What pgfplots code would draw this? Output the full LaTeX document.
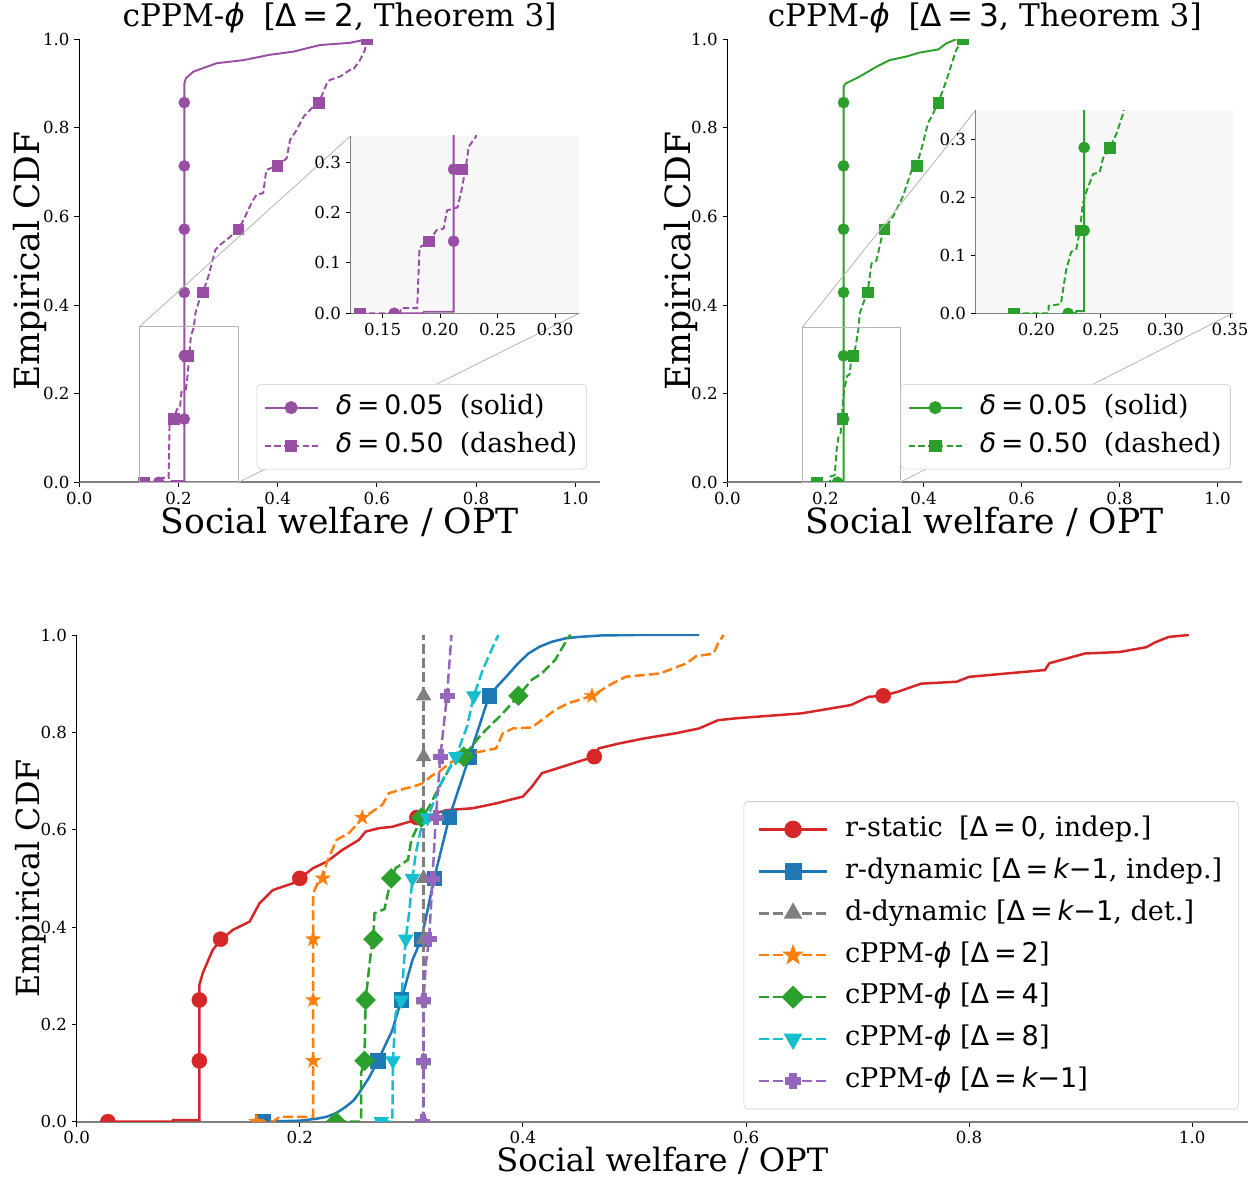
\documentclass[border=0pt]{standalone}
\usepackage{fontspec}
\setmainfont{DejaVu Serif}
\newfontfamily\dvs{DejaVu Sans}
\usepackage{pgfplots}
\usepackage{pgfplotstable}
\pgfplotsset{compat=1.18}
\usetikzlibrary{plotmarks}

\definecolor{tpurple}{HTML}{984EA3}
\definecolor{tgreen}{HTML}{2CA02C}
\definecolor{cred}{HTML}{D62728}
\definecolor{cblue}{HTML}{1F77B4}
\definecolor{cgray}{HTML}{7F7F7F}
\definecolor{corange}{HTML}{FF7F0E}
\definecolor{cgreen}{HTML}{2CA02C}
\definecolor{ccyan}{HTML}{17BECF}
\definecolor{cpurple}{HTML}{9467BD}
\definecolor{spine}{HTML}{808080}
\definecolor{boxgray}{HTML}{B5B5B5}
\definecolor{legedge}{HTML}{CCCCCC}
\definecolor{insetbg}{HTML}{F8F8F8}

% math-like pieces (matplotlib mathtext uses DejaVu Sans)
\newcommand{\mth}[1]{{\dvs #1}}
\newcommand{\eq}{\mth{\hspace{0.18em}=\hspace{0.18em}}}
\newcommand{\D}{\mth{Δ}}
\newcommand{\kk}{{\dvs\itshape k}}
\newcommand{\mn}{\mth{−}}
\newcommand{\ph}{{\dvs\itshape ϕ}}
\newcommand{\dl}{{\dvs\itshape δ}}

% filled star and filled plus marks
\pgfdeclareplotmark{fstar}{%
  \pgfpathmoveto{\pgfpointpolar{90}{\pgfplotmarksize}}%
  \pgfpathlineto{\pgfpointpolar{126}{0.40\pgfplotmarksize}}%
  \pgfpathlineto{\pgfpointpolar{162}{\pgfplotmarksize}}%
  \pgfpathlineto{\pgfpointpolar{198}{0.40\pgfplotmarksize}}%
  \pgfpathlineto{\pgfpointpolar{234}{\pgfplotmarksize}}%
  \pgfpathlineto{\pgfpointpolar{270}{0.40\pgfplotmarksize}}%
  \pgfpathlineto{\pgfpointpolar{306}{\pgfplotmarksize}}%
  \pgfpathlineto{\pgfpointpolar{342}{0.40\pgfplotmarksize}}%
  \pgfpathlineto{\pgfpointpolar{18}{\pgfplotmarksize}}%
  \pgfpathlineto{\pgfpointpolar{54}{0.40\pgfplotmarksize}}%
  \pgfpathclose
  \pgfusepathqfillstroke}
\pgfdeclareplotmark{fplus}{%
  \pgfpathmoveto{\pgfpoint{0.36\pgfplotmarksize}{\pgfplotmarksize}}%
  \pgfpathlineto{\pgfpoint{-0.36\pgfplotmarksize}{\pgfplotmarksize}}%
  \pgfpathlineto{\pgfpoint{-0.36\pgfplotmarksize}{0.36\pgfplotmarksize}}%
  \pgfpathlineto{\pgfpoint{-\pgfplotmarksize}{0.36\pgfplotmarksize}}%
  \pgfpathlineto{\pgfpoint{-\pgfplotmarksize}{-0.36\pgfplotmarksize}}%
  \pgfpathlineto{\pgfpoint{-0.36\pgfplotmarksize}{-0.36\pgfplotmarksize}}%
  \pgfpathlineto{\pgfpoint{-0.36\pgfplotmarksize}{-\pgfplotmarksize}}%
  \pgfpathlineto{\pgfpoint{0.36\pgfplotmarksize}{-\pgfplotmarksize}}%
  \pgfpathlineto{\pgfpoint{0.36\pgfplotmarksize}{-0.36\pgfplotmarksize}}%
  \pgfpathlineto{\pgfpoint{\pgfplotmarksize}{-0.36\pgfplotmarksize}}%
  \pgfpathlineto{\pgfpoint{\pgfplotmarksize}{0.36\pgfplotmarksize}}%
  \pgfpathlineto{\pgfpoint{0.36\pgfplotmarksize}{0.36\pgfplotmarksize}}%
  \pgfpathclose
  \pgfusepathqfillstroke}

%% ---------------- data: top-left (Delta = 2) ----------------
\pgfplotstableread{
x y
0.16 0
0.185 0
0.186 0.003
0.2117 0.003
0.2117 0.90
0.215 0.912
0.23 0.927
0.277 0.946
0.331 0.953
0.384 0.965
0.431 0.972
0.485 0.987
0.546 0.992
0.58 1.0
}\tlsolid
\pgfplotstableread{
x y
0.16 0
0.2117 0.1429
0.2117 0.2857
0.2117 0.4286
0.2117 0.5714
0.2117 0.7143
0.2117 0.8571
}\tlsolidm
\pgfplotstableread{
x y
0.13 0
0.165 0
0.166 0.01
0.18 0.01
0.182 0.13
0.19 0.143
0.197 0.165
0.203 0.168
0.206 0.204
0.215 0.21
0.218 0.237
0.222 0.286
0.225 0.331
0.231 0.35
0.234 0.381
0.244 0.419
0.249 0.4286
0.260 0.464
0.274 0.524
0.284 0.536
0.304 0.554
0.321 0.5714
0.331 0.592
0.347 0.630
0.357 0.649
0.371 0.653
0.377 0.705
0.399 0.7143
0.418 0.731
0.425 0.773
0.438 0.795
0.452 0.825
0.472 0.848
0.483 0.8571
0.499 0.90
0.505 0.908
0.526 0.916
0.546 0.931
0.552 0.931
0.566 0.953
0.576 0.976
0.579 0.995
0.58 1.0
}\tldash
\pgfplotstableread{
x y
0.13 0
0.19 0.1429
0.219 0.2857
0.249 0.4286
0.321 0.5714
0.399 0.7143
0.483 0.8571
0.58 1.0
}\tldashm

%% ---------------- data: top-right (Delta = 3) ----------------
\pgfplotstableread{
x y
0.2246 0
0.23 0
0.231 0.004
0.237 0.004
0.237 0.893
0.241 0.90
0.270 0.916
0.304 0.938
0.331 0.953
0.365 0.961
0.392 0.970
0.430 0.977
0.447 0.991
0.467 1.0
}\trsolid
\pgfplotstableread{
x y
0.2246 0
0.237 0.1429
0.237 0.2857
0.237 0.4286
0.237 0.5714
0.237 0.7143
0.237 0.8571
}\trsolidm
\pgfplotstableread{
x y
0.1824 0
0.2095 0
0.2095 0.013
0.219 0.016
0.223 0.074
0.227 0.106
0.231 0.111
0.2337 0.143
0.236 0.189
0.2389 0.211
0.244 0.240
0.249 0.243
0.2518 0.268
0.257 0.286
0.262 0.309
0.267 0.343
0.270 0.381
0.277 0.404
0.286 0.4286
0.294 0.494
0.304 0.5
0.318 0.569
0.320 0.5714
0.338 0.60
0.358 0.645
0.376 0.705
0.386 0.7143
0.399 0.765
0.409 0.81
0.420 0.833
0.43 0.8571
0.44 0.886
0.447 0.908
0.460 0.953
0.467 0.976
0.477 0.995
0.48 1.0
}\trdash
\pgfplotstableread{
x y
0.1824 0
0.2345 0.1429
0.257 0.2857
0.286 0.4286
0.320 0.5714
0.386 0.7143
0.43 0.8571
0.48 1.0
}\trdashm

%% ---------------- data: bottom panel ----------------
\pgfplotstableread{
x y
0.028 0
0.0865 0
0.0865 0.003
0.110 0.003
0.110 0.281
0.113 0.305
0.118 0.332
0.122 0.353
0.129 0.373
0.140 0.394
0.155 0.411
0.164 0.449
0.176 0.476
0.194 0.490
0.2 0.5
0.212 0.521
0.224 0.534
0.238 0.558
0.253 0.579
0.259 0.596
0.271 0.603
0.283 0.606
0.304 0.62
0.331 0.64
0.355 0.644
0.376 0.654
0.40 0.668
0.408 0.688
0.417 0.716
0.435 0.729
0.45 0.740
0.464 0.75
0.468 0.767
0.486 0.777
0.51 0.788
0.537 0.798
0.558 0.808
0.575 0.825
0.592 0.829
0.650 0.839
0.694 0.856
0.71 0.873
0.723 0.875
0.737 0.884
0.757 0.90
0.789 0.904
0.80 0.914
0.868 0.928
0.872 0.942
0.888 0.952
0.904 0.962
0.935 0.965
0.959 0.975
0.967 0.985
0.979 0.996
0.997 1.0
}\rstatic
\pgfplotstableread{
x y
0.028 0
0.110 0.125
0.110 0.25
0.129 0.375
0.2 0.5
0.305 0.625
0.464 0.75
0.723 0.875
}\rstaticm
\pgfplotstableread{
x y
0.167 0
0.2 0.002
0.215 0.006
0.224 0.01
0.233 0.018
0.2415 0.031
0.248 0.043
0.253 0.058
0.262 0.09
0.270 0.125
0.283 0.188
0.291 0.25
0.301 0.332
0.309 0.375
0.319 0.483
0.3205 0.5
0.334 0.625
0.352 0.75
0.3697 0.875
0.378 0.897
0.385 0.914
0.395 0.94
0.405 0.962
0.415 0.976
0.426 0.986
0.438 0.993
0.45 0.996
0.47 0.999
0.5 1.0
0.558 1.0
}\rdyn
\pgfplotstableread{
x y
0.167 0
0.270 0.125
0.291 0.25
0.309 0.375
0.3205 0.5
0.334 0.625
0.352 0.75
0.3697 0.875
}\rdynm
\pgfplotstableread{
x y
0.311 0
0.311 1.0
}\ddyn
\pgfplotstableread{
x y
0.311 0
0.311 0.125
0.311 0.25
0.311 0.375
0.311 0.5
0.311 0.625
0.311 0.75
0.311 0.875
}\ddynm
\pgfplotstableread{
x y
0.161 0
0.176 0
0.182 0.01
0.212 0.01
0.212 0.469
0.216 0.49
0.2206 0.5
0.224 0.531
0.233 0.579
0.244 0.593
0.256 0.623
0.265 0.637
0.274 0.651
0.28 0.675
0.295 0.685
0.301 0.688
0.31 0.695
0.319 0.712
0.325 0.719
0.334 0.736
0.346 0.753
0.361 0.760
0.376 0.767
0.382 0.798
0.391 0.808
0.408 0.81
0.429 0.846
0.441 0.860
0.462 0.875
0.48 0.90
0.492 0.914
0.523 0.921
0.547 0.942
0.555 0.956
0.571 0.962
0.575 0.983
0.58 1.0
}\cptwo
\pgfplotstableread{
x y
0.161 0
0.212 0.125
0.212 0.25
0.212 0.375
0.2206 0.5
0.256 0.625
0.346 0.75
0.462 0.875
}\cptwom
\pgfplotstableread{
x y
0.2325 0
0.255 0
0.255 0.1
0.258 0.125
0.259 0.25
0.264 0.353
0.266 0.375
0.267 0.428
0.276 0.437
0.282 0.5
0.286 0.521
0.297 0.538
0.30 0.579
0.309 0.623
0.316 0.647
0.325 0.688
0.335 0.729
0.347 0.75
0.361 0.791
0.37 0.812
0.382 0.839
0.396 0.875
0.408 0.908
0.417 0.921
0.429 0.949
0.441 0.996
0.443 1.0
}\cpfour
\pgfplotstableread{
x y
0.2325 0
0.258 0.125
0.259 0.25
0.266 0.375
0.282 0.5
0.309 0.625
0.347 0.75
0.396 0.875
}\cpfourm
\pgfplotstableread{
x y
0.273 0
0.283 0
0.2835 0.125
0.286 0.223
0.291 0.25
0.295 0.375
0.298 0.428
0.301 0.5
0.304 0.551
0.309 0.606
0.3145 0.625
0.328 0.702
0.34 0.75
0.35 0.812
0.356 0.875
0.364 0.928
0.373 0.975
0.378 1.0
}\cpeight
\pgfplotstableread{
x y
0.273 0
0.2835 0.125
0.291 0.25
0.295 0.375
0.301 0.5
0.3145 0.625
0.34 0.75
0.356 0.875
}\cpeightm
\pgfplotstableread{
x y
0.31 0
0.311 0.05
0.311 0.125
0.311 0.25
0.313 0.325
0.316 0.375
0.319 0.5
0.322 0.625
0.326 0.75
0.332 0.875
0.336 1.0
}\cpk
\pgfplotstableread{
x y
0.31 0
0.311 0.125
0.311 0.25
0.316 0.375
0.319 0.5
0.322 0.625
0.326 0.75
0.332 0.875
}\cpkm

\pgfplotsset{
  base/.style={scale only axis, axis lines*=left, enlargelimits=false,
    clip marker paths=true,
    tick align=outside, major tick length=3.5bp,
    tick style={black, line width=0.6bp},
    ticklabel style={font=\fontsize{12}{14}\selectfont},
    /pgf/number format/fixed, /pgf/number format/fixed zerofill,
    /pgf/number format/precision=1,
    /pgf/number format/assume math mode=true,
    legend cell align=left},
  mainax/.style={base, xmin=0, xmax=1.05, ymin=0, ymax=1,
    xtick={0,0.2,0.4,0.6,0.8,1}, ytick={0,0.2,0.4,0.6,0.8,1},
    x axis line style={draw=spine, line width=1.4bp},
    y axis line style={draw=black, line width=0.8bp}},
  insax/.style={base, ymin=0, ymax=0.352, ytick={0,0.1,0.2,0.3},
    axis background/.style={fill=insetbg},
    x axis line style={draw=spine, line width=1bp},
    y axis line style={draw=spine, line width=1bp},
    xticklabel style={/pgf/number format/precision=2}},
  topleg/.style={
    legend image code/.code={\draw[mark repeat=2,mark phase=2,##1]
      plot coordinates {(0bp,0bp) (19bp,0bp) (38bp,0bp)};},
    legend style={at={(rel axis cs:#1,0.0293)}, anchor=south east,
      draw=legedge, rounded corners=3bp, fill=white,
      font=\fontsize{19.3}{23}\selectfont,
      inner xsep=5bp, inner ysep=6bp, row sep=6bp,
      nodes={inner sep=1.5bp, text height=14bp, text depth=4.5bp},
      /tikz/every odd column/.append style={column sep=11bp}}},
  ttl/.style={title style={at={(rel axis cs:0.5,1.0103)}, anchor=base,
      font=\fontsize{22.5}{26}\selectfont},
    xlabel style={at={(rel axis cs:0.5,-0.1144)}, anchor=base,
      font=\fontsize{25}{29}\selectfont},
    ylabel style={at={(rel axis cs:#1,0.5)}, anchor=base,
      font=\fontsize{25}{29}\selectfont}},
  tpsol/.style={tpurple, line width=1.4bp, solid},
  tpdash/.style={tpurple, line width=1.4bp, dash pattern=on 4.5bp off 2.3bp},
  tgsol/.style={tgreen, line width=1.4bp, solid},
  tgdash/.style={tgreen, line width=1.4bp, dash pattern=on 4.5bp off 2.3bp},
  bdash/.style={line width=1.8bp, dash pattern=on 7.2bp off 3bp},
}

\begin{document}
\begin{tikzpicture}
\useasboundingbox (0,0) rectangle (905.76bp,849.6bp);

%% ================= top left =================
\begin{axis}[mainax, ttl=-0.0774, topleg=0.9745,
  at={(57.1bp,502.3bp)}, anchor=south west,
  width=374.9bp, height=319bp,
  title={cPPM-\ph\hspace{0.6em}[\D\eq\mth{2}, Theorem 3]},
  xlabel={Social welfare / OPT}, ylabel={Empirical CDF}]
\addlegendimage{tpsol, mark=*, mark size=4bp}
\addlegendentry{\dl\eq\mth{0.05}\hspace{0.6em}(solid)}
\addlegendimage{tpdash, mark=square*, mark size=3.8bp, mark options={solid}}
\addlegendentry{\dl\eq\mth{0.50}\hspace{0.6em}(dashed)}
\addplot[tpsol, forget plot] table {\tlsolid};
\addplot[tpurple, only marks, mark=*, mark size=4bp, forget plot] table {\tlsolidm};
\addplot[tpdash, forget plot] table {\tldash};
\addplot[tpurple, only marks, mark=square*, mark size=3.8bp, forget plot] table {\tldashm};
\draw[boxgray, line width=0.6bp] (axis cs:0.122,0) rectangle (axis cs:0.321,0.352);
\draw[boxgray, line width=0.6bp] (axis cs:0.122,0.352) -- (axis cs:0.547,0.782);
\draw[boxgray, line width=0.6bp] (axis cs:0.321,0) -- (axis cs:1.008,0.3815);
\coordinate (tlins) at (axis cs:0.547,0.782);
\end{axis}

\begin{axis}[insax, at={(tlins)}, anchor=north west,
  width=164.6bp, height=127.7bp,
  xmin=0.122, xmax=0.321, xtick={0.15,0.2,0.25,0.3}]
\addplot[tpsol] table {\tlsolid};
\addplot[tpurple, only marks, mark=*, mark size=4bp] table {\tlsolidm};
\addplot[tpdash] table {\tldash};
\addplot[tpurple, only marks, mark=square*, mark size=3.8bp] table {\tldashm};
\end{axis}

%% ================= top right =================
\begin{axis}[mainax, ttl=-0.072, topleg=0.978,
  at={(523.7bp,502.3bp)}, anchor=south west,
  width=370.6bp, height=319bp,
  title={cPPM-\ph\hspace{0.6em}[\D\eq\mth{3}, Theorem 3]},
  xlabel={Social welfare / OPT}, ylabel={Empirical CDF}]
\addlegendimage{tgsol, mark=*, mark size=4bp}
\addlegendentry{\dl\eq\mth{0.05}\hspace{0.6em}(solid)}
\addlegendimage{tgdash, mark=square*, mark size=3.8bp, mark options={solid}}
\addlegendentry{\dl\eq\mth{0.50}\hspace{0.6em}(dashed)}
\addplot[tgsol, forget plot] table {\trsolid};
\addplot[tgreen, only marks, mark=*, mark size=4bp, forget plot] table {\trsolidm};
\addplot[tgdash, forget plot] table {\trdash};
\addplot[tgreen, only marks, mark=square*, mark size=3.8bp, forget plot] table {\trdashm};
\draw[boxgray, line width=0.6bp] (axis cs:0.153,0) rectangle (axis cs:0.352,0.35);
\draw[boxgray, line width=0.6bp] (axis cs:0.153,0.35) -- (axis cs:0.5065,0.840);
\draw[boxgray, line width=0.6bp] (axis cs:0.352,0) -- (axis cs:1.0307,0.3815);
\coordinate (trins) at (axis cs:0.5065,0.840);
\end{axis}

\begin{axis}[insax, at={(trins)}, anchor=north west,
  width=185bp, height=146.3bp, ymax=0.35,
  xmin=0.153, xmax=0.352, xtick={0.2,0.25,0.3,0.35}]
\addplot[tgsol] table {\trsolid};
\addplot[tgreen, only marks, mark=*, mark size=4bp] table {\trsolidm};
\addplot[tgdash] table {\trdash};
\addplot[tgreen, only marks, mark=square*, mark size=3.8bp] table {\trdashm};
\end{axis}

%% ================= bottom =================
\begin{axis}[mainax,
  at={(55.2bp,42bp)}, anchor=south west,
  width=843.3bp, height=350.4bp,
  xlabel={Social welfare / OPT}, ylabel={Empirical CDF},
  xlabel style={at={(rel axis cs:0.5,-0.1025)}, anchor=base,
    font=\fontsize{23.2}{27}\selectfont},
  ylabel style={at={(rel axis cs:-0.0321,0.5)}, anchor=base,
    font=\fontsize{23}{27}\selectfont},
  legend image code/.code={\draw[mark repeat=2,mark phase=2,#1]
    plot coordinates {(0bp,0bp) (24.5bp,0bp) (49bp,0bp)};},
  legend style={at={(rel axis cs:0.992,0.0255)}, anchor=south east,
    draw=legedge, rounded corners=3bp, fill=white,
    font=\fontsize{19.6}{23}\selectfont,
    inner xsep=10bp, inner ysep=9bp, row sep=8bp,
    nodes={inner sep=1.5bp, text height=14.5bp, text depth=4.7bp},
    /tikz/every odd column/.append style={column sep=10.5bp}}]
\addlegendimage{cred, line width=1.8bp, solid, mark=*, mark size=5.4bp}
\addlegendentry{r-static\hspace{0.6em}[\D\eq\mth{0}, indep.]}
\addlegendimage{cblue, line width=1.8bp, solid, mark=square*, mark size=5.2bp}
\addlegendentry{r-dynamic [\D\eq\kk\mn\mth{1}, indep.]}
\addlegendimage{cgray, bdash, mark=triangle*, mark size=6bp, mark options={solid}}
\addlegendentry{d-dynamic [\D\eq\kk\mn\mth{1}, det.]}
\addlegendimage{corange, bdash, mark=fstar, mark size=5.5bp, mark options={solid}}
\addlegendentry{cPPM-\ph\ [\D\eq\mth{2}]}
\addlegendimage{cgreen, bdash, mark=square*, mark size=5bp, mark options={solid, rotate=45}}
\addlegendentry{cPPM-\ph\ [\D\eq\mth{4}]}
\addlegendimage{ccyan, bdash, mark=triangle*, mark size=6bp, mark options={solid, rotate=180}}
\addlegendentry{cPPM-\ph\ [\D\eq\mth{8}]}
\addlegendimage{cpurple, bdash, mark=fplus, mark size=5bp, mark options={solid}}
\addlegendentry{cPPM-\ph\ [\D\eq\kk\mn\mth{1}]}

\addplot[cred, line width=1.8bp, solid, forget plot] table {\rstatic};
\addplot[cred, only marks, mark=*, mark size=5.4bp, forget plot] table {\rstaticm};
\addplot[cblue, line width=1.8bp, solid, forget plot] table {\rdyn};
\addplot[cblue, only marks, mark=square*, mark size=5.2bp, forget plot] table {\rdynm};
\addplot[cgray, bdash, forget plot] table {\ddyn};
\addplot[cgray, only marks, mark=triangle*, mark size=6bp, forget plot] table {\ddynm};
\addplot[corange, bdash, forget plot] table {\cptwo};
\addplot[corange, only marks, mark=fstar, mark size=5.5bp, forget plot] table {\cptwom};
\addplot[cgreen, bdash, forget plot] table {\cpfour};
\addplot[cgreen, only marks, mark=square*, mark size=5bp, mark options={rotate=45}, forget plot] table {\cpfourm};
\addplot[ccyan, bdash, forget plot] table {\cpeight};
\addplot[ccyan, only marks, mark=triangle*, mark size=6bp, mark options={rotate=180}, forget plot] table {\cpeightm};
\addplot[cpurple, bdash, forget plot] table {\cpk};
\addplot[cpurple, only marks, mark=fplus, mark size=5bp, forget plot] table {\cpkm};
\end{axis}
\end{tikzpicture}
\end{document}
